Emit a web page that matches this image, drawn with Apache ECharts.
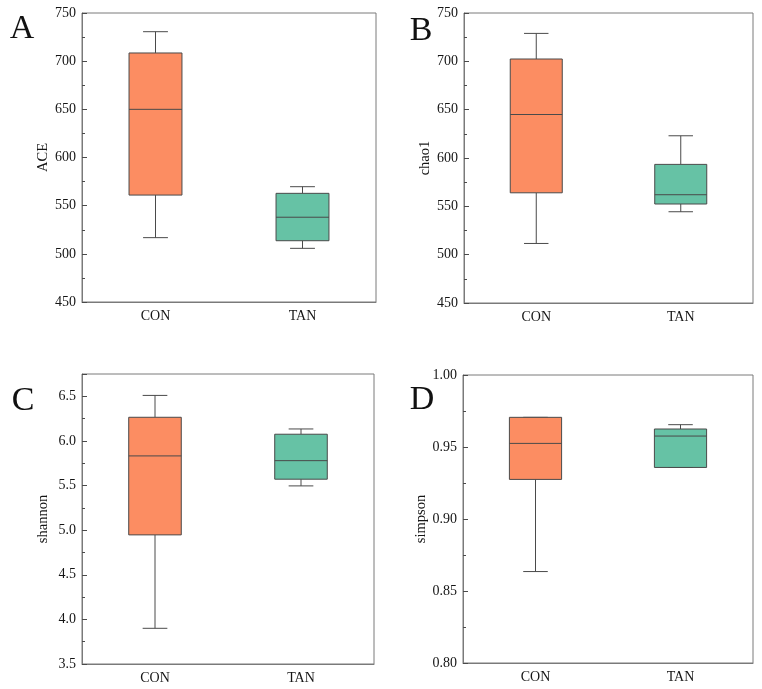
<!DOCTYPE html>
<html><head><meta charset="UTF-8">
<title>alpha diversity</title>
<script src="https://cdn.jsdelivr.net/npm/echarts@6/dist/echarts.min.js"></script>
<style>
  *{margin:0;padding:0;}
  html,body{width:762px;height:689px;background:#fff;}
  #main{width:762px;height:689px;}
</style>
</head>
<body>
<div id="main"></div>
<script>
// groups
var categories = ['CON', 'TAN'];
// each box: [min, Q1, median, Q3, max]
var aceCON = [516.8, 561.0, 650.0, 708.5, 730.6];
var aceTAN = [505.7, 513.6, 538.0, 562.8, 569.7];
var chaoCON = [511.6, 564.0, 645.0, 702.4, 728.9];
var chaoTAN = [544.4, 552.4, 562.0, 593.4, 623.0];
var shannonCON = [3.90, 4.947, 5.832, 6.265, 6.51];
var shannonTAN = [5.496, 5.571, 5.779, 6.075, 6.134];
var simpsonCON = [0.8635, 0.9275, 0.9525, 0.9706, 0.9706];
var simpsonTAN = [0.9358, 0.9358, 0.9576, 0.9625, 0.9655];
var yNames = ['ACE', 'chao1', 'shannon', 'simpson'];
var panelLetters = ['A', 'B', 'C', 'D'];
var colors = ['#FC8D62', '#66C2A5'];

var FONT = "'Liberation Serif','Times New Roman',serif";
var frameColor = '#7a7a7a';
var lineColor = '#4a4a4a';

var grids = [
  {left: 82, top: 13, width: 294, height: 289},
  {left: 464, top: 13, width: 289, height: 290},
  {left: 82, top: 374, width: 292, height: 290},
  {left: 463, top: 375, width: 290, height: 288}
];
var yRanges = [
  {min: 450, max: 750, interval: 50, dec: 0},
  {min: 450, max: 750, interval: 50, dec: 0},
  {min: 3.5, max: 6.75, interval: 0.5, dec: 1},
  {min: 0.8, max: 1.0, interval: 0.05, dec: 2}
];
var boxes = [
  [aceCON, aceTAN],
  [chaoCON, chaoTAN],
  [shannonCON, shannonTAN],
  [simpsonCON, simpsonTAN]
];
var letterPos = [[22, 29], [421, 31], [23, 401], [422, 400]];

function renderBox(params, api) {
  var idx = api.value(0);
  var lo = api.coord([idx, api.value(1)]);
  var q1 = api.coord([idx, api.value(2)]);
  var md = api.coord([idx, api.value(3)]);
  var q3 = api.coord([idx, api.value(4)]);
  var hi = api.coord([idx, api.value(5)]);
  var band = api.size([1, 0])[0];
  var w = band * 0.36, cw = w * 0.47;
  var x = lo[0];
  var ls = {stroke: lineColor, lineWidth: 1, fill: null};
  return {
    type: 'group',
    children: [
      {type: 'line', shape: {x1: x, y1: q3[1], x2: x, y2: hi[1]}, style: ls},
      {type: 'line', shape: {x1: x, y1: q1[1], x2: x, y2: lo[1]}, style: ls},
      {type: 'line', shape: {x1: x - cw / 2, y1: hi[1], x2: x + cw / 2, y2: hi[1]}, style: ls},
      {type: 'line', shape: {x1: x - cw / 2, y1: lo[1], x2: x + cw / 2, y2: lo[1]}, style: ls},
      {type: 'rect', shape: {x: x - w / 2, y: q3[1], width: w, height: q1[1] - q3[1]},
        style: {fill: colors[idx], stroke: lineColor, lineWidth: 1}},
      {type: 'line', shape: {x1: x - w / 2, y1: md[1], x2: x + w / 2, y2: md[1]}, style: ls}
    ]
  };
}

var option = {
  animation: false,
  grid: grids.map(function (g) {
    return Object.assign({show: true, borderColor: frameColor, borderWidth: 1, backgroundColor: 'transparent'}, g);
  }),
  xAxis: grids.map(function (g, i) {
    return {
      type: 'category', gridIndex: i, data: categories,
      axisLine: {lineStyle: {color: frameColor}},
      axisTick: {inside: true, alignWithLabel: true, length: 5, lineStyle: {color: lineColor}},
      axisLabel: {color: '#151515', fontFamily: FONT, fontSize: 14, margin: 7}
    };
  }),
  yAxis: yRanges.map(function (r, i) {
    return {
      type: 'value', gridIndex: i, min: r.min, max: r.max, interval: r.interval,
      name: yNames[i], nameLocation: 'middle', nameGap: 31,
      nameTextStyle: {color: '#151515', fontFamily: FONT, fontSize: 14.5},
      splitLine: {show: false},
      axisLine: {show: true, lineStyle: {color: frameColor}},
      axisTick: {show: true, inside: true, length: 5, lineStyle: {color: lineColor}},
      minorTick: {show: true, splitNumber: 2, length: 3, lineStyle: {color: lineColor}},
      axisLabel: {
        color: '#151515', fontFamily: FONT, fontSize: 14, margin: 6,
        formatter: function (v) {
          var k = (v - r.min) / r.interval;
          if (Math.abs(k - Math.round(k)) > 1e-6) return '';
          return v.toFixed(r.dec);
        }
      }
    };
  }),
  series: boxes.map(function (pair, i) {
    return {
      type: 'custom', xAxisIndex: i, yAxisIndex: i,
      renderItem: renderBox,
      encode: {x: 0, y: [1, 2, 3, 4, 5]},
      data: pair.map(function (b, j) { return [j].concat(b); })
    };
  }),
  graphic: panelLetters.map(function (t, i) {
    return {
      type: 'text', x: letterPos[i][0], y: letterPos[i][1],
      style: {text: t, font: '34px ' + FONT, fill: '#111', align: 'center', verticalAlign: 'middle'}
    };
  })
};

var chart = echarts.init(document.getElementById('main'));
chart.setOption(option);
</script>
</body></html>
